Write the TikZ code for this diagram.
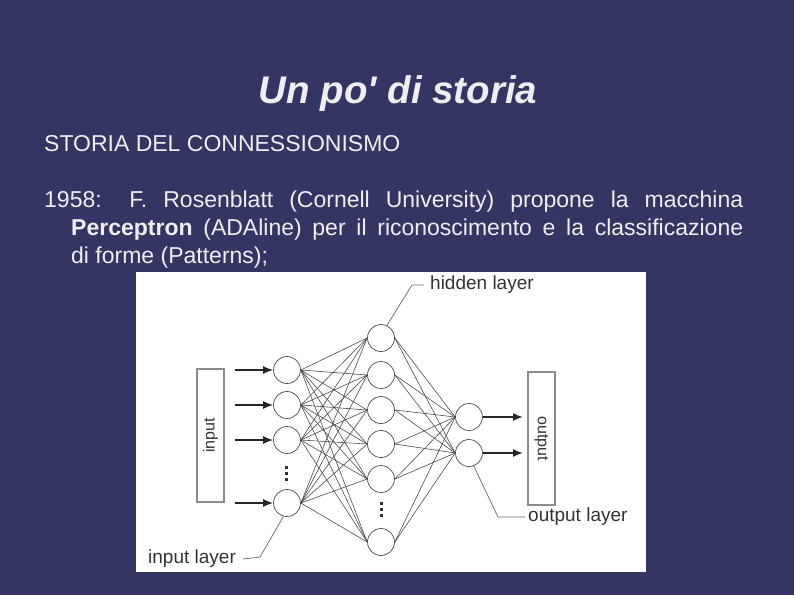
\documentclass[tikz,border=0pt]{standalone}
\usepackage{fontspec}
\setmainfont{Liberation Sans}
\usetikzlibrary{arrows.meta}
\definecolor{slidebg}{RGB}{53,53,99}
\definecolor{slidetext}{RGB}{238,238,243}
\tikzset{
    neuron/.style={
        circle,
        draw=black!70,
        fill=white,
        minimum size=27pt,
        inner sep=0pt,
        line width=0.7pt
    },
    iobox/.style={
        draw=black!45,
        line width=1.4pt,
        fill=white,
        minimum width=27pt,
        minimum height=133pt,
        inner sep=0pt,
        text=black!80,
        font=\fontsize{16}{16}\selectfont
    },
    synapse/.style={
        draw=black!70,
        line width=0.6pt
    },
    signal/.style={
        draw=black!85,
        line width=1.6pt,
        -{Latex[length=10pt,width=8pt]}
    },
    leader/.style={
        draw=black!60,
        line width=0.7pt
    },
    layerlabel/.style={
        anchor=west,
        inner sep=0pt,
        text=black!80,
        font=\fontsize{19}{19}\selectfont
    },
    slidetxt/.style={
        anchor=base west,
        inner sep=0pt,
        text=slidetext,
        font=\fontsize{23}{28}\selectfont
    }
}

\begin{document}
\begin{tikzpicture}[x=1pt, y=-1pt]
    \useasboundingbox (0,0) rectangle (794,595);
    \fill[slidebg] (0,0) rectangle (794,595);

    \node[anchor=base, text=slidetext, font=\bfseries\itshape\fontsize{38.5}{38}\selectfont] (title) at (398,103) {Un po\textquotesingle{} di storia};
    \node[slidetxt] (subtitle) at (44,151) {STORIA DEL CONNESSIONISMO};
    \node[slidetxt] (body) at (44,207)
        {\parbox[t]{699pt}{\hangindent=27pt\hangafter=1 1958: F. Rosenblatt (Cornell University) propone la macchina\linebreak
         \textbf{Perceptron} (ADAline) per il riconoscimento e la classificazione\linebreak
         di forme (Patterns);}};

    % the network figure
    \node[fill=white, minimum width=510pt, minimum height=300pt, inner sep=0pt] (fig) at (391,422) {};

    \foreach \n/\y in {1/370,2/405,3/440,4/503} {
        \node[neuron] (i\n) at (287,\y) {};
        \coordinate (src\n) at (235,\y);
    }
    \foreach \n/\y in {1/338,2/375,3/410,4/444,5/479,6/542}
        \node[neuron] (h\n) at (381,\y) {};
    \foreach \n/\y in {1/417,2/453} {
        \node[neuron] (o\n) at (469,\y) {};
        \coordinate (dst\n) at (523,\y);
    }

    \foreach \a in {1,...,4}
        \foreach \b in {1,...,6}
            \draw[synapse] (i\a.east) -- (h\b.west);
    \foreach \b in {1,...,6}
        \foreach \c in {1,2}
            \draw[synapse] (h\b.east) -- (o\c.west);

    \node[iobox] (inbox) at (210.5,435.5) {\rotatebox{90}{input}};
    \node[iobox] (outbox) at (541.5,438.5) {\rotatebox{-90}{output}};

    \foreach \n in {1,...,4}
        \draw[signal] (src\n) -- (i\n);
    \foreach \n in {1,2}
        \draw[signal] (o\n) -- (dst\n);

    % dots
    \foreach \d in {-6,0,6} {
        \fill[black!80] (284.5,{471.5+\d}) rectangle ++(3,3);
        \fill[black!80] (379.5,{507.5+\d}) rectangle ++(3,3);
    }

    \node[layerlabel] (hlabel) at (430,285) {hidden layer};
    \node[layerlabel] (olabel) at (528,517) {output layer};
    \node[layerlabel] (ilabel) at (148,559) {input layer};

    \draw[leader] ([xshift=-6pt]hlabel.west) -- ++(-12,0) -- (h1.65);
    \draw[leader] ([xshift=-3pt]olabel.west) -- ++(-27,0) -- (o2.-70);
    \draw[leader] ([xshift=7pt]ilabel.east) -- ++(17,-2) -- (i4.-105);
\end{tikzpicture}
\end{document}
